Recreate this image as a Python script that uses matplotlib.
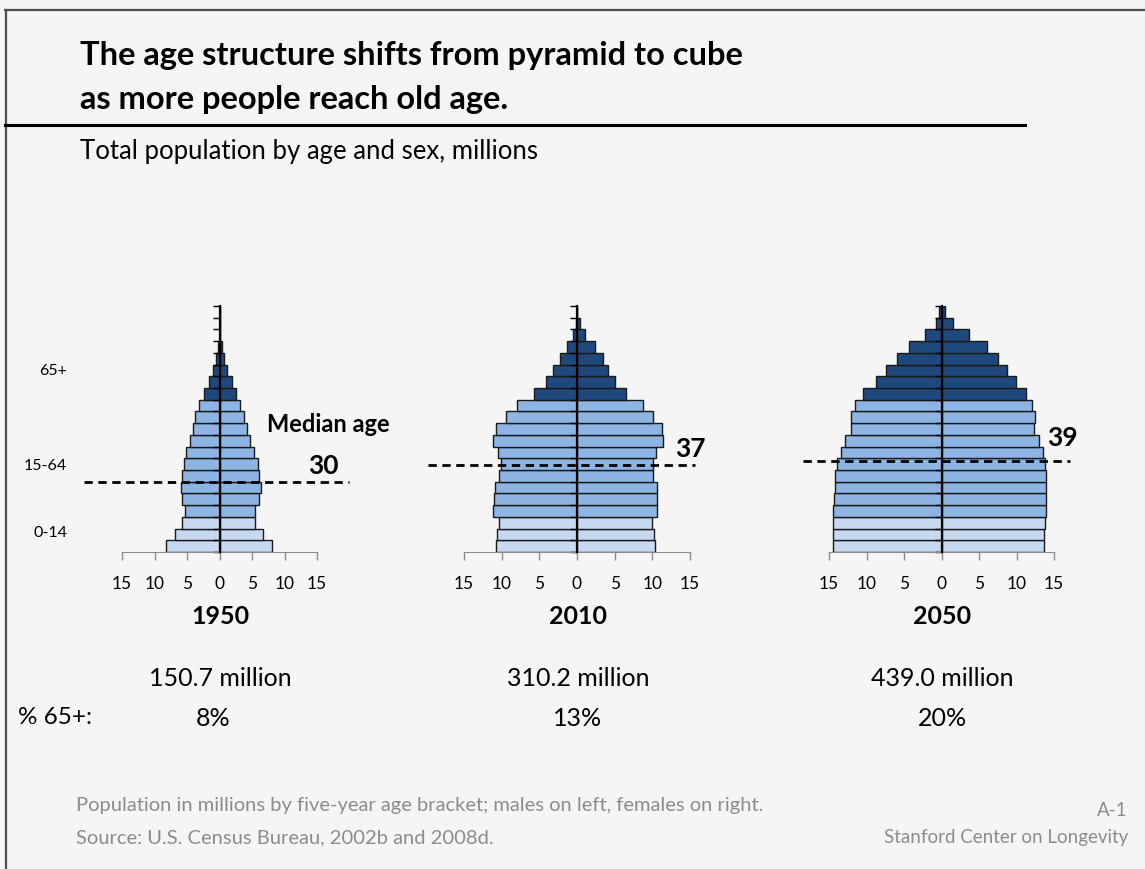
import matplotlib.pyplot as plt
import numpy as np

# ===============================
# Data: population by 5-year age bracket (millions), 0-4 ... 100+
# ===============================
age_groups = ["0-4", "5-9", "10-14", "15-19", "20-24", "25-29", "30-34", "35-39",
              "40-44", "45-49", "50-54", "55-59", "60-64", "65-69", "70-74",
              "75-79", "80-84", "85-89", "90-94", "95-99", "100+"]

male_1950 = [8.3, 6.8, 5.7, 5.3, 5.7, 6.0, 5.7, 5.5, 5.1, 4.6, 4.15,
             3.7, 3.1, 2.4, 1.6, 1.0, 0.5, 0.3, 0.0, 0.0, 0.0]
female_1950 = [8.1, 6.7, 5.5, 5.4, 6.0, 6.4, 6.05, 5.85, 5.3, 4.7, 4.25,
               3.7, 3.1, 2.6, 1.85, 1.2, 0.67, 0.36, 0.0, 0.0, 0.0]

male_2010 = [10.76, 10.63, 10.41, 11.16, 11.07, 10.9, 10.32, 10.15, 10.5, 11.16, 10.8,
             9.44, 7.98, 5.73, 4.15, 3.18, 2.29, 1.28, 0.49, 0.13, 0.03]
female_2010 = [10.37, 10.28, 10.01, 10.67, 10.67, 10.59, 10.15, 10.1, 10.54, 11.42, 11.29,
               10.06, 8.73, 6.53, 5.07, 4.15, 3.4, 2.34, 1.1, 0.44, 0.05]

male_2050 = [14.47, 14.42, 14.47, 14.51, 14.34, 14.2, 14.2, 13.94, 13.45, 12.88, 12.09,
             12.13, 11.47, 10.41, 8.78, 7.37, 6.0, 4.32, 2.25, 0.75, 0.4]
female_2050 = [13.72, 13.72, 13.85, 13.98, 13.9, 13.9, 13.98, 13.85, 13.54, 13.01, 12.35,
               12.48, 12.0, 11.2, 9.88, 8.69, 7.5, 6.0, 3.66, 1.5, 0.44]

years = ["1950", "2010", "2050"]
median_ages = [30, 37, 39]
totals = ["150.7 million", "310.2 million", "439.0 million"]
pct_65 = ["8%", "13%", "20%"]
group_labels = ["65+", "15-64", "0-14"]

# ===============================
# Layout helpers (pixel coordinates on a 1145x869 canvas)
# ===============================
W, H = 1145, 869
BG = "#F5F5F5"
LIGHT, MID, DARK = "#C6D9F1", "#8DB4E2", "#1F497D"
FONT = "Lato"


def fx(x):
    return x / W


def fy(y):
    return 1 - y / H


def ptext(x, y, s, **kw):
    fig.text(fx(x), fy(y), s, family=FONT, **kw)


fig = plt.figure(figsize=(W / 100, H / 100), dpi=100, facecolor=BG)

# frame lines (top and left) and title rule
fig.add_artist(plt.Line2D([fx(5), 1], [fy(10), fy(10)], color="#4d4d4d", lw=1.6))
fig.add_artist(plt.Line2D([fx(6), fx(6)], [fy(10), 0], color="#4d4d4d", lw=1.6))
fig.add_artist(plt.Line2D([fx(5), fx(1025)], [fy(125), fy(125)], color="black", lw=2.2))

ptext(80, 56, "The age structure shifts from pyramid to cube", fontsize=23.5,
      fontweight="bold", va="center")
ptext(80, 99, "as more people reach old age.", fontsize=23.5, fontweight="bold", va="center")
ptext(80, 152, "Total population by age and sex, millions", fontsize=18.5, va="center")

# ===============================
# Pyramids
# ===============================
panels = [
    (male_1950, female_1950, 122, 317),
    (male_2010, female_2010, 464, 690),
    (male_2050, female_2050, 829, 1054),
]
dash_px = [(84, 349), (428, 695), (803, 1070)]
median_lbl_px = [(323, 466), (690, 449), (1062, 438)]

colors = [LIGHT] * 3 + [MID] * 10 + [DARK] * 8
y = np.arange(len(age_groups)) + 0.5
top, bottom = 306, 552

for i, (male, female, x0, x1) in enumerate(panels):
    ax = fig.add_axes([fx(x0), fy(bottom), fx(x1 - x0), (bottom - top) / H])
    ax.set_facecolor("none")
    ax.barh(y, -np.array(male), height=1, color=colors, edgecolor="#1a1a1a", lw=1.0)
    ax.barh(y, female, height=1, color=colors, edgecolor="#1a1a1a", lw=1.0)
    ax.set_xlim(-15, 15)
    ax.set_ylim(0, len(age_groups))

    for s in ["top", "right"]:
        ax.spines[s].set_visible(False)
    ax.spines["left"].set_position(("data", 0))
    ax.spines["left"].set_linewidth(1.6)
    ax.spines["left"].set_zorder(5)
    ax.spines["bottom"].set_color("#8c8c8c")

    ax.set_yticks(np.arange(len(age_groups) + 1))
    ax.set_yticklabels([])
    ax.tick_params(axis="y", length=5, width=1, color="black", direction="out")

    ax.set_xticks([-15, -10, -5, 0, 5, 10, 15])
    ax.set_xticklabels(["15", "10", "5", "0", "5", "10", "15"], family=FONT, fontsize=12.5)
    ax.tick_params(axis="x", length=6, width=1, color="#8c8c8c", pad=11)

    # median age dashed line
    med_y = median_ages[i] / 5
    a, b = dash_px[i]
    ax.axhline(med_y, xmin=(a - x0) / (x1 - x0), xmax=(b - x0) / (x1 - x0),
               color="black", lw=2, ls=(0, (3, 2)), clip_on=False, zorder=6)

    cx = (x0 + x1) / 2
    lx, ly = median_lbl_px[i]
    ptext(lx, ly, str(median_ages[i]), fontsize=19, fontweight="bold",
          ha="center", va="center")
    ptext(cx + 1, 616, years[i], fontsize=18, fontweight="bold", ha="center", va="center")
    ptext(cx + 1, 678, totals[i], fontsize=18, ha="center", va="center")
    ptext(cx - 6 if i == 0 else cx + 1, 718, pct_65[i], fontsize=18,
          ha="center", va="center")

ptext(328, 425, "Median age", fontsize=17, fontweight="bold", ha="center", va="center")

# age group labels on the left
for lbl, ly in zip(group_labels, [371, 466, 533]):
    ptext(67, ly, lbl, fontsize=11.5, ha="right", va="center")

ptext(18, 718, "% 65+:", fontsize=17.5, ha="left", va="center")

# footnotes
GRAY = "#8c8c8c"
ptext(76, 806, "Population in millions by five-year age bracket; males on left, females on right.",
      fontsize=14.5, color=GRAY, va="center")
ptext(76, 838, "Source: U.S. Census Bureau, 2002b and 2008d.", fontsize=14.5,
      color=GRAY, va="center")
ptext(1128, 811, "A-1", fontsize=13.5, color=GRAY, ha="right", va="center")
ptext(1128, 838, "Stanford Center on Longevity", fontsize=13.5, color=GRAY,
      ha="right", va="center")

fig.savefig("out.png", dpi=100, facecolor=BG)
